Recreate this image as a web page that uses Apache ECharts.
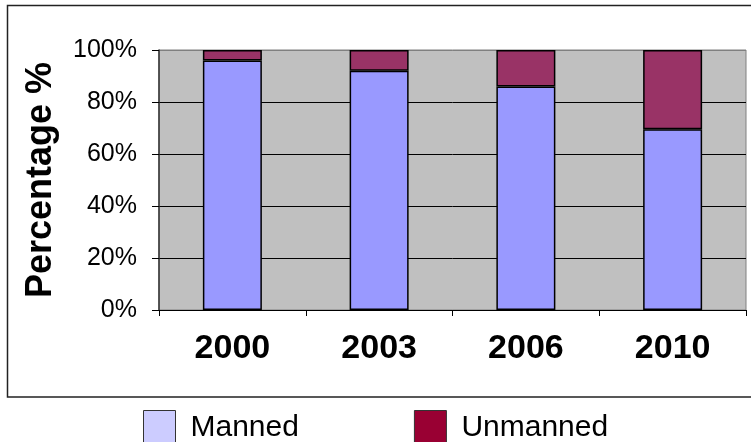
<!DOCTYPE html>
<html>
<head>
<meta charset="utf-8">
<script src="https://cdn.jsdelivr.net/npm/echarts@6/dist/echarts.min.js"></script>
<style>
html,body{margin:0;padding:0;background:#fff;}
#chart{width:751px;height:442px;}
</style>
</head>
<body>
<div id="chart"></div>
<script>
const categories = ['2000', '2003', '2006', '2010'];
const manned = [96, 92, 86, 69.5];
const unmanned = [4, 8, 14, 30.5];
const yTicks = [0, 20, 40, 60, 80, 100];

const chart = echarts.init(document.getElementById('chart'));
const font = 'Arial, "Liberation Sans", sans-serif';
chart.setOption({
  animation: false,
  backgroundColor: '#fff',
  graphic: [{
    type: 'rect',
    shape: { x: 7.5, y: 5.5, width: 760, height: 391.5 },
    style: { fill: 'none', stroke: '#222', lineWidth: 1.5 },
    z: -1
  }],
  grid: {
    left: 159, right: 5, top: 50, bottom: 132,
    show: true, backgroundColor: '#c0c0c0', borderColor: '#808080', borderWidth: 1
  },
  legend: {
    left: 143, top: 410, padding: 0,
    itemWidth: 32, itemHeight: 34, itemGap: 115,
    icon: 'rect',
    textStyle: { fontFamily: font, fontSize: 30, color: '#000', padding: [8, 0, 0, 10] },
    data: [
      { name: 'Manned', itemStyle: { color: '#ccccff', borderColor: '#333', borderWidth: 1 } },
      { name: 'Unmanned', itemStyle: { color: '#990033', borderColor: '#333', borderWidth: 1 } }
    ]
  },
  xAxis: {
    type: 'category',
    data: categories,
    axisLine: { lineStyle: { color: '#000', width: 1 } },
    axisTick: { show: true, length: 6, lineStyle: { color: '#000' } },
    axisLabel: { fontFamily: font, fontSize: 34, fontWeight: 'bold', color: '#000', margin: 22 }
  },
  yAxis: {
    type: 'value',
    min: yTicks[0], max: yTicks[yTicks.length - 1], interval: 20,
    name: 'Percentage %',
    nameLocation: 'middle',
    nameGap: 100,
    nameTextStyle: { fontFamily: font, fontSize: 36, fontWeight: 'bold', color: '#000' },
    axisLine: { show: true, lineStyle: { color: '#333', width: 1.5 } },
    axisTick: { show: true, length: 7, lineStyle: { color: '#000' } },
    axisLabel: { fontFamily: font, fontSize: 25, color: '#000', margin: 22, formatter: '{value}%' },
    splitLine: { show: true, lineStyle: { color: ['#000', '#000', '#000', '#000', '#000', '#808080'], width: 1 } }
  },
  series: [
    {
      name: 'Manned', type: 'bar', stack: 'total', data: manned, barWidth: 59,
      itemStyle: { color: '#9999ff', borderColor: '#000', borderWidth: 1.5 }
    },
    {
      name: 'Unmanned', type: 'bar', stack: 'total', data: unmanned, barWidth: 59,
      itemStyle: { color: '#993366', borderColor: '#000', borderWidth: 1.5 }
    }
  ]
});
</script>
</body>
</html>
